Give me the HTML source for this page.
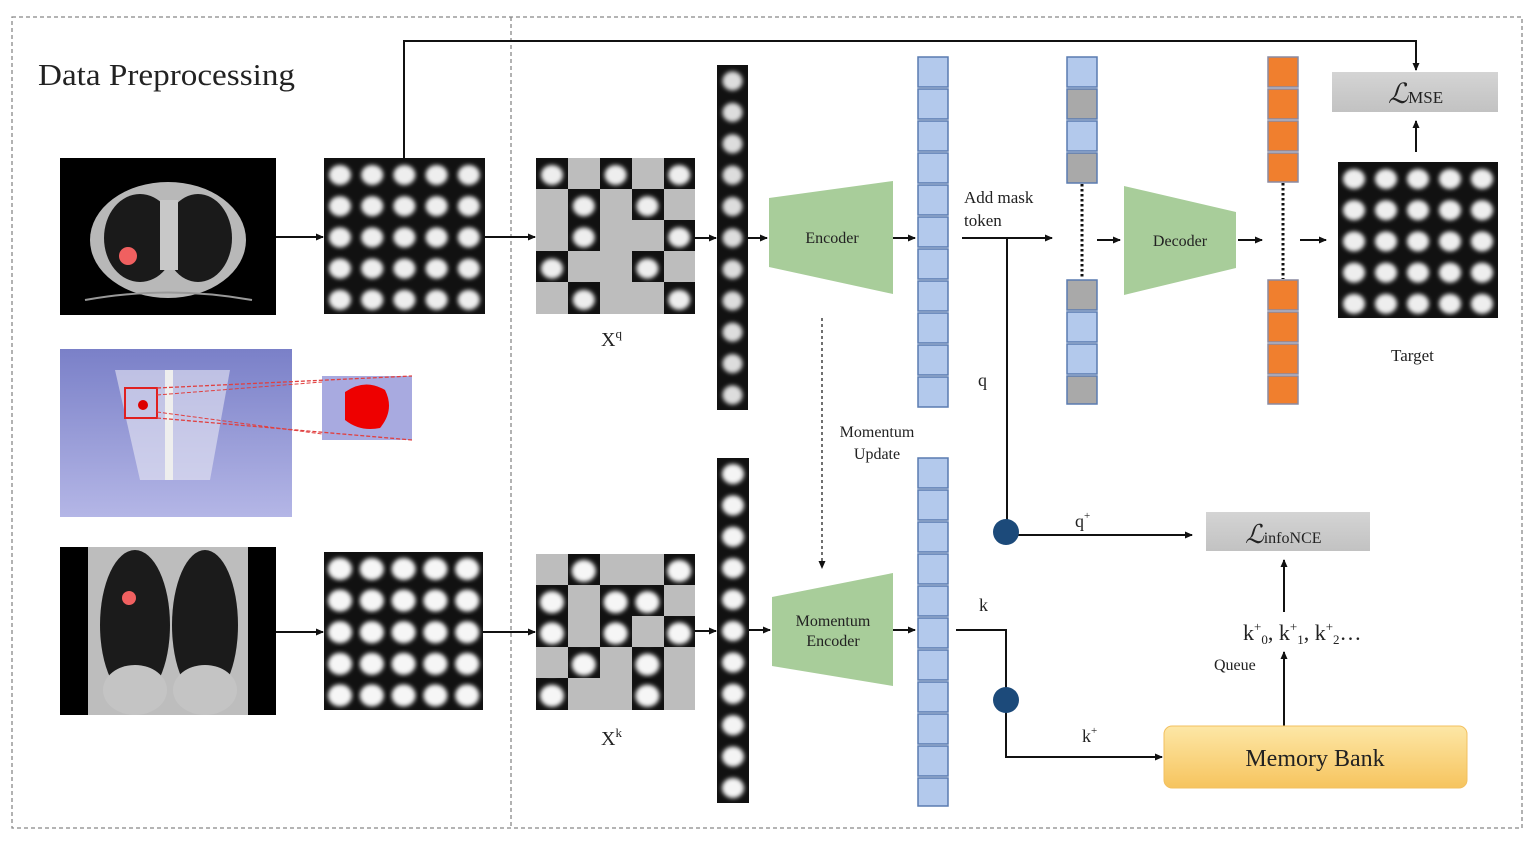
<!DOCTYPE html>
<html><head><meta charset="utf-8"><style>
html,body{margin:0;padding:0;background:#fff;}
svg{display:block;}
text{font-family:"Liberation Serif",serif;fill:#222;}
</style></head><body>
<svg width="1535" height="841" viewBox="0 0 1535 841" xmlns="http://www.w3.org/2000/svg">
<defs>
<filter id="bl" x="-30%" y="-30%" width="160%" height="160%"><feGaussianBlur stdDeviation="2"/></filter>
<pattern id="nodA" x="324" y="158" width="32.2" height="31.2" patternUnits="userSpaceOnUse">
<rect width="33" height="32" fill="#111"/><ellipse cx="16" cy="17" rx="11" ry="10" fill="#eee" filter="url(#bl)"/></pattern>
<pattern id="nodB" x="536" y="158" width="31.8" height="31.2" patternUnits="userSpaceOnUse">
<rect width="33" height="32" fill="#111"/><ellipse cx="16" cy="17" rx="11" ry="10" fill="#eee" filter="url(#bl)"/></pattern>
<pattern id="nodC" x="1338" y="162" width="32" height="31.2" patternUnits="userSpaceOnUse">
<rect width="33" height="32" fill="#111"/><ellipse cx="16" cy="17" rx="11" ry="10" fill="#eee" filter="url(#bl)"/></pattern>
<pattern id="nodD" x="324" y="552" width="31.8" height="31.6" patternUnits="userSpaceOnUse">
<rect width="33" height="32" fill="#111"/><ellipse cx="16" cy="17" rx="12" ry="11" fill="#f6f6f6" filter="url(#bl)"/></pattern>
<pattern id="nodE" x="536" y="554" width="31.8" height="31.2" patternUnits="userSpaceOnUse">
<rect width="33" height="32" fill="#111"/><ellipse cx="16" cy="17" rx="12" ry="11" fill="#f6f6f6" filter="url(#bl)"/></pattern>
<pattern id="strA" x="717" y="65" width="31" height="31.4" patternUnits="userSpaceOnUse">
<rect width="32" height="32" fill="#111"/><ellipse cx="15.5" cy="16" rx="10" ry="9.5" fill="#ddd" filter="url(#bl)"/></pattern>
<pattern id="strB" x="717" y="458" width="32" height="31.4" patternUnits="userSpaceOnUse">
<rect width="32" height="32" fill="#111"/><ellipse cx="16" cy="16" rx="11" ry="10" fill="#f4f4f4" filter="url(#bl)"/></pattern>
<linearGradient id="gray" x1="0" y1="0" x2="0" y2="1"><stop offset="0" stop-color="#d4d4d4"/><stop offset="1" stop-color="#c2c2c2"/></linearGradient>
<linearGradient id="yel" x1="0" y1="0" x2="0" y2="1"><stop offset="0" stop-color="#fde7a6"/><stop offset="1" stop-color="#f6c45e"/></linearGradient>
<linearGradient id="vio" x1="0" y1="0" x2="0" y2="1"><stop offset="0" stop-color="#7a80c8"/><stop offset="1" stop-color="#b4b6e6"/></linearGradient>
<marker id="ar" markerWidth="8" markerHeight="8" refX="7" refY="4" orient="auto" markerUnits="userSpaceOnUse"><path d="M0,0.5 L8,4 L0,7.5 Z" fill="#111"/></marker>
</defs>

<rect x="12" y="17" width="1510" height="811" fill="none" stroke="#888" stroke-width="1.3" stroke-dasharray="4,3"/>
<line x1="511" y1="17" x2="511" y2="828" stroke="#888" stroke-width="1.3" stroke-dasharray="4,3"/>

<text x="38" y="85" font-size="31" textLength="257" lengthAdjust="spacingAndGlyphs">Data Preprocessing</text>

<rect x="60" y="158" width="216" height="157" fill="#000"/>
<ellipse cx="168" cy="240" rx="78" ry="58" fill="#b8b8b8"/>
<ellipse cx="140" cy="238" rx="36" ry="44" fill="#1a1a1a"/>
<ellipse cx="198" cy="238" rx="34" ry="44" fill="#1a1a1a"/>
<rect x="160" y="200" width="18" height="70" fill="#c8c8c8"/>
<circle cx="128" cy="256" r="9" fill="#f06060"/>
<path d="M85,300 Q168,285 252,300" stroke="#999" fill="none" stroke-width="2"/>

<rect x="60" y="349" width="232" height="168" fill="url(#vio)"/>
<path d="M115,370 L230,370 L210,480 L140,480 Z" fill="#e8e8f4" opacity="0.6"/>
<rect x="165" y="370" width="8" height="110" fill="#eee"/>
<rect x="125" y="388" width="32" height="30" fill="none" stroke="#e02020" stroke-width="2"/>
<circle cx="143" cy="405" r="5" fill="#d00"/>
<rect x="322" y="376" width="90" height="64" fill="#a8aae0"/>
<path d="M345,392 Q365,378 385,390 Q395,410 380,428 Q360,432 345,420 Z" fill="#e00"/>
<line x1="157" y1="388" x2="412" y2="376" stroke="#e04040" stroke-dasharray="4,2" stroke-width="1.3"/>
<line x1="157" y1="418" x2="412" y2="440" stroke="#e04040" stroke-dasharray="4,2" stroke-width="1.3"/>
<line x1="157" y1="395" x2="322" y2="382" stroke="#e04040" stroke-dasharray="4,2" stroke-width="1"/>
<line x1="157" y1="412" x2="322" y2="434" stroke="#e04040" stroke-dasharray="4,2" stroke-width="1"/>

<rect x="60" y="547" width="216" height="168" fill="#000"/>
<rect x="88" y="547" width="160" height="168" fill="#bdbdbd"/>
<ellipse cx="135" cy="625" rx="35" ry="75" fill="#1b1b1b"/>
<ellipse cx="205" cy="625" rx="33" ry="75" fill="#1b1b1b"/>
<ellipse cx="135" cy="690" rx="32" ry="25" fill="#c4c4c4"/>
<ellipse cx="205" cy="690" rx="32" ry="25" fill="#c4c4c4"/>
<circle cx="129" cy="598" r="7" fill="#f06060"/>

<rect x="324" y="158" width="161" height="156" fill="url(#nodA)"/>
<rect x="324" y="552" width="159" height="158" fill="url(#nodD)"/>
<rect x="1338" y="162" width="160" height="156" fill="url(#nodC)"/>

<rect x="536" y="158" width="159" height="156" fill="url(#nodB)"/>
<g fill="#bdbdbd">
<rect x="568" y="158" width="32" height="31"/><rect x="632" y="158" width="32" height="31"/>
<rect x="536" y="189" width="32" height="62"/><rect x="600" y="189" width="32" height="94"/><rect x="664" y="189" width="31" height="31"/>
<rect x="632" y="220" width="32" height="31"/>
<rect x="568" y="251" width="32" height="31"/><rect x="664" y="251" width="31" height="31"/>
<rect x="536" y="282" width="32" height="32"/><rect x="600" y="282" width="64" height="32"/>
</g>
<text x="601" y="346" font-size="20">X<tspan font-size="13" dy="-8">q</tspan></text>

<rect x="536" y="554" width="159" height="156" fill="url(#nodE)"/>
<g fill="#bdbdbd">
<rect x="536" y="554" width="32" height="31"/><rect x="600" y="554" width="64" height="31"/>
<rect x="568" y="585" width="32" height="62"/><rect x="664" y="585" width="31" height="31"/>
<rect x="632" y="616" width="32" height="31"/>
<rect x="536" y="647" width="32" height="31"/><rect x="600" y="647" width="32" height="63"/><rect x="664" y="647" width="31" height="63"/>
<rect x="568" y="678" width="32" height="32"/>
</g>
<text x="601" y="745" font-size="20">X<tspan font-size="13" dy="-8">k</tspan></text>

<rect x="717" y="65" width="31" height="345" fill="url(#strA)"/>
<rect x="717" y="458" width="32" height="345" fill="url(#strB)"/>

<g stroke="#111" stroke-width="2" marker-end="url(#ar)">
<line x1="276" y1="237" x2="323" y2="237"/>
<line x1="485" y1="237" x2="535" y2="237"/>
<line x1="695" y1="238" x2="716" y2="238"/>
<line x1="748" y1="238" x2="767" y2="238"/>
<line x1="276" y1="632" x2="323" y2="632"/>
<line x1="483" y1="632" x2="535" y2="632"/>
<line x1="695" y1="631" x2="716" y2="631"/>
<line x1="749" y1="630" x2="770" y2="630"/>
<line x1="893" y1="238" x2="915" y2="238"/>
<line x1="893" y1="630" x2="915" y2="630"/>
<line x1="1097" y1="240" x2="1120" y2="240"/>
<line x1="1238" y1="240" x2="1262" y2="240"/>
<line x1="1300" y1="240" x2="1326" y2="240"/>
<line x1="1416" y1="152" x2="1416" y2="121"/>
<line x1="962" y1="238" x2="1052" y2="238"/>
<line x1="1006" y1="535" x2="1192" y2="535"/>
<line x1="1284" y1="726" x2="1284" y2="652"/>
<line x1="1284" y1="612" x2="1284" y2="560"/>
</g>
<polyline points="404,158 404,41 1416,41 1416,70" fill="none" stroke="#111" stroke-width="2" marker-end="url(#ar)"/>
<line x1="1007" y1="238" x2="1007" y2="532" stroke="#111" stroke-width="2"/>
<polyline points="956,630 1006,630 1006,757 1162,757" fill="none" stroke="#111" stroke-width="2" marker-end="url(#ar)"/>
<line x1="822" y1="318" x2="822" y2="568" stroke="#222" stroke-width="1.3" stroke-dasharray="3,3" marker-end="url(#ar)"/>

<circle cx="1006" cy="532" r="13" fill="#1c4a7a"/>
<circle cx="1006" cy="700" r="13" fill="#1c4a7a"/>

<polygon points="769,198 893,181 893,294 769,267" fill="#a8cd9a"/>
<text x="832" y="243" font-size="16" text-anchor="middle" fill="#2a3a2a">Encoder</text>
<polygon points="772,597 893,573 893,686 772,666" fill="#a8cd9a"/>
<text x="833" y="626" font-size="16" text-anchor="middle" fill="#2a3a2a">Momentum</text>
<text x="833" y="646" font-size="16" text-anchor="middle" fill="#2a3a2a">Encoder</text>
<polygon points="1124,186 1236,212 1236,268 1124,295" fill="#a8cd9a"/>
<text x="1180" y="246" font-size="16" text-anchor="middle" fill="#2a3a2a">Decoder</text>

<g fill="#b3c9ec" stroke="#5a7bb0" stroke-width="1.5">
<rect x="918" y="57" width="30" height="30"/><rect x="918" y="89" width="30" height="30"/><rect x="918" y="121" width="30" height="30"/><rect x="918" y="153" width="30" height="30"/><rect x="918" y="185" width="30" height="30"/><rect x="918" y="217" width="30" height="30"/><rect x="918" y="249" width="30" height="30"/><rect x="918" y="281" width="30" height="30"/><rect x="918" y="313" width="30" height="30"/><rect x="918" y="345" width="30" height="30"/><rect x="918" y="377" width="30" height="30"/>
<rect x="918" y="458" width="30" height="30"/><rect x="918" y="490" width="30" height="30"/><rect x="918" y="522" width="30" height="30"/><rect x="918" y="554" width="30" height="30"/><rect x="918" y="586" width="30" height="30"/><rect x="918" y="618" width="30" height="30"/><rect x="918" y="650" width="30" height="30"/><rect x="918" y="682" width="30" height="30"/><rect x="918" y="714" width="30" height="30"/><rect x="918" y="746" width="30" height="30"/><rect x="918" y="778" width="30" height="28"/>
<rect x="1067" y="57" width="30" height="30"/><rect x="1067" y="121" width="30" height="30"/>
<rect x="1067" y="312" width="30" height="30"/><rect x="1067" y="344" width="30" height="30"/>
</g>
<g fill="#a9a9a9" stroke="#5a7bb0" stroke-width="1.5">
<rect x="1067" y="89" width="30" height="30"/><rect x="1067" y="153" width="30" height="30"/>
<rect x="1067" y="280" width="30" height="30"/><rect x="1067" y="376" width="30" height="28"/>
</g>
<g fill="#f07f2e" stroke="#8a8aa0" stroke-width="1.5">
<rect x="1268" y="57" width="30" height="30"/><rect x="1268" y="89" width="30" height="30"/><rect x="1268" y="121" width="30" height="30"/><rect x="1268" y="153" width="30" height="29"/>
<rect x="1268" y="280" width="30" height="30"/><rect x="1268" y="312" width="30" height="30"/><rect x="1268" y="344" width="30" height="30"/><rect x="1268" y="376" width="30" height="28"/>
</g>
<line x1="1082" y1="184" x2="1082" y2="279" stroke="#111" stroke-width="3" stroke-dasharray="2.5,2.5"/>
<line x1="1283" y1="183" x2="1283" y2="279" stroke="#111" stroke-width="3" stroke-dasharray="2.5,2.5"/>

<rect x="1332" y="72" width="166" height="40" fill="url(#gray)"/>
<text x="1388" y="103" font-size="28" font-style="italic">ℒ<tspan font-size="17" font-style="normal">MSE</tspan></text>
<rect x="1206" y="512" width="164" height="39" fill="url(#gray)"/>
<text x="1245" y="543" font-size="26" font-style="italic">ℒ<tspan font-size="16" font-style="normal">infoNCE</tspan></text>
<rect x="1164" y="726" width="303" height="62" rx="8" fill="url(#yel)" stroke="#f2c060"/>
<text x="1315" y="766" font-size="24" text-anchor="middle">Memory Bank</text>

<text x="964" y="203" font-size="17">Add mask</text>
<text x="964" y="226" font-size="17">token</text>
<text x="978" y="386" font-size="18">q</text>
<text x="877" y="437" font-size="16" text-anchor="middle">Momentum</text>
<text x="877" y="459" font-size="16" text-anchor="middle">Update</text>
<text x="1391" y="361" font-size="17">Target</text>
<text x="1075" y="527" font-size="18">q<tspan font-size="11" dy="-8">+</tspan></text>
<text x="979" y="611" font-size="18">k</text>
<text x="1082" y="742" font-size="18">k<tspan font-size="11" dy="-8">+</tspan></text>
<text x="1214" y="670" font-size="16">Queue</text>
<text x="1243" y="640" font-size="22">k<tspan font-size="13" dy="-9">+</tspan><tspan font-size="13" dy="13">0</tspan><tspan dy="-4">, k</tspan><tspan font-size="13" dy="-9">+</tspan><tspan font-size="13" dy="13">1</tspan><tspan dy="-4">, k</tspan><tspan font-size="13" dy="-9">+</tspan><tspan font-size="13" dy="13">2</tspan><tspan dy="-4">…</tspan></text>
</svg>
</body></html>
